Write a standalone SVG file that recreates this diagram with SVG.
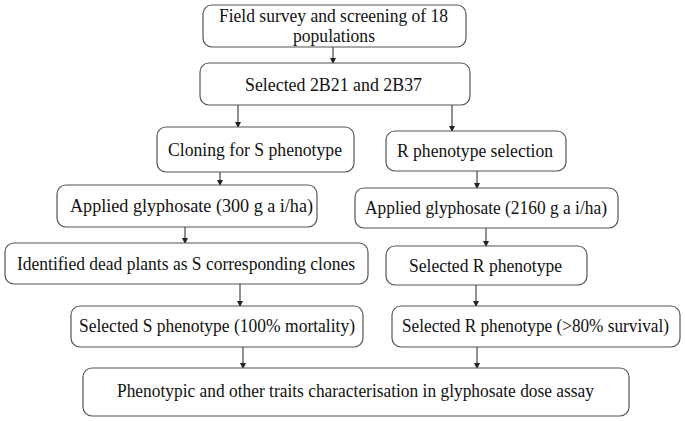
<svg xmlns="http://www.w3.org/2000/svg" width="685" height="421" viewBox="0 0 685 421">
<style>
.box{fill:#fff;stroke:#555;stroke-width:1.2}
.t{font-family:"Liberation Serif","Times New Roman",serif;font-size:18px;fill:#111}
.c{stroke:#222;stroke-width:1;fill:none;marker-end:url(#ah)}
</style>
<defs>
<marker id="ah" markerWidth="6" markerHeight="6" refX="5" refY="3" orient="auto" markerUnits="userSpaceOnUse">
<path d="M0,0 L6,3 L0,6 Z" fill="#222"/>
</marker>
</defs>
<rect width="685" height="421" fill="#fff"/>
<g id="connectors">
<line class="c" x1="333" y1="47" x2="333" y2="63"/>
<line class="c" x1="238" y1="105" x2="238" y2="127"/>
<line class="c" x1="452" y1="105" x2="452" y2="131"/>
<line class="c" x1="220" y1="172" x2="220" y2="185"/>
<line class="c" x1="477" y1="171" x2="477" y2="188"/>
<line class="c" x1="185" y1="227" x2="185" y2="243"/>
<line class="c" x1="486" y1="228" x2="486" y2="246"/>
<line class="c" x1="240" y1="284" x2="240" y2="306"/>
<line class="c" x1="476" y1="285" x2="476" y2="306"/>
<line class="c" x1="243" y1="347" x2="243" y2="368"/>
<line class="c" x1="477" y1="347" x2="477" y2="368"/>
</g>
<g id="n1"><rect class="box" x="203" y="5" width="263" height="42" rx="9"/>
<text class="t" font-family="Liberation Serif, serif" x="219" y="22" textLength="229" lengthAdjust="spacingAndGlyphs">Field survey and screening of 18</text>
<text class="t" font-family="Liberation Serif, serif" x="293" y="42" textLength="82" lengthAdjust="spacingAndGlyphs">populations</text></g>
<g id="n2"><rect class="box" x="200" y="63" width="270" height="42" rx="9"/>
<text class="t" font-family="Liberation Serif, serif" x="245" y="91" textLength="177" lengthAdjust="spacingAndGlyphs">Selected 2B21 and 2B37</text></g>
<g id="n3"><rect class="box" x="157" y="127" width="197" height="45" rx="9"/>
<text class="t" font-family="Liberation Serif, serif" x="168" y="156" textLength="174" lengthAdjust="spacingAndGlyphs">Cloning for S phenotype</text></g>
<g id="n4"><rect class="box" x="386" y="131" width="180" height="40" rx="9"/>
<text class="t" font-family="Liberation Serif, serif" x="397" y="157" textLength="156" lengthAdjust="spacingAndGlyphs">R phenotype selection</text></g>
<g id="n5"><rect class="box" x="57" y="185" width="260" height="42" rx="9"/>
<text class="t" font-family="Liberation Serif, serif" x="70" y="212" textLength="243" lengthAdjust="spacingAndGlyphs">Applied glyphosate (300 g a i/ha)</text></g>
<g id="n6"><rect class="box" x="355" y="188" width="263" height="40" rx="9"/>
<text class="t" font-family="Liberation Serif, serif" x="365" y="214" textLength="242" lengthAdjust="spacingAndGlyphs">Applied glyphosate (2160 g a i/ha)</text></g>
<g id="n7"><rect class="box" x="5" y="243" width="363" height="41" rx="9"/>
<text class="t" font-family="Liberation Serif, serif" x="17" y="270" textLength="338" lengthAdjust="spacingAndGlyphs">Identified dead plants as S corresponding clones</text></g>
<g id="n8"><rect class="box" x="386" y="246" width="201" height="39" rx="9"/>
<text class="t" font-family="Liberation Serif, serif" x="409" y="272" textLength="153" lengthAdjust="spacingAndGlyphs">Selected R phenotype</text></g>
<g id="n9"><rect class="box" x="71" y="306" width="292" height="41" rx="9"/>
<text class="t" font-family="Liberation Serif, serif" x="79" y="332" textLength="276" lengthAdjust="spacingAndGlyphs">Selected S phenotype (100% mortality)</text></g>
<g id="n10"><rect class="box" x="392" y="306" width="288" height="41" rx="9"/>
<text class="t" font-family="Liberation Serif, serif" x="402" y="332" textLength="267" lengthAdjust="spacingAndGlyphs">Selected R phenotype (&gt;80% survival)</text></g>
<g id="n11"><rect class="box" x="83" y="368" width="546" height="48" rx="9"/>
<text class="t" font-family="Liberation Serif, serif" x="117" y="397" textLength="477" lengthAdjust="spacingAndGlyphs">Phenotypic and other traits characterisation in glyphosate dose assay</text></g>
</svg>
